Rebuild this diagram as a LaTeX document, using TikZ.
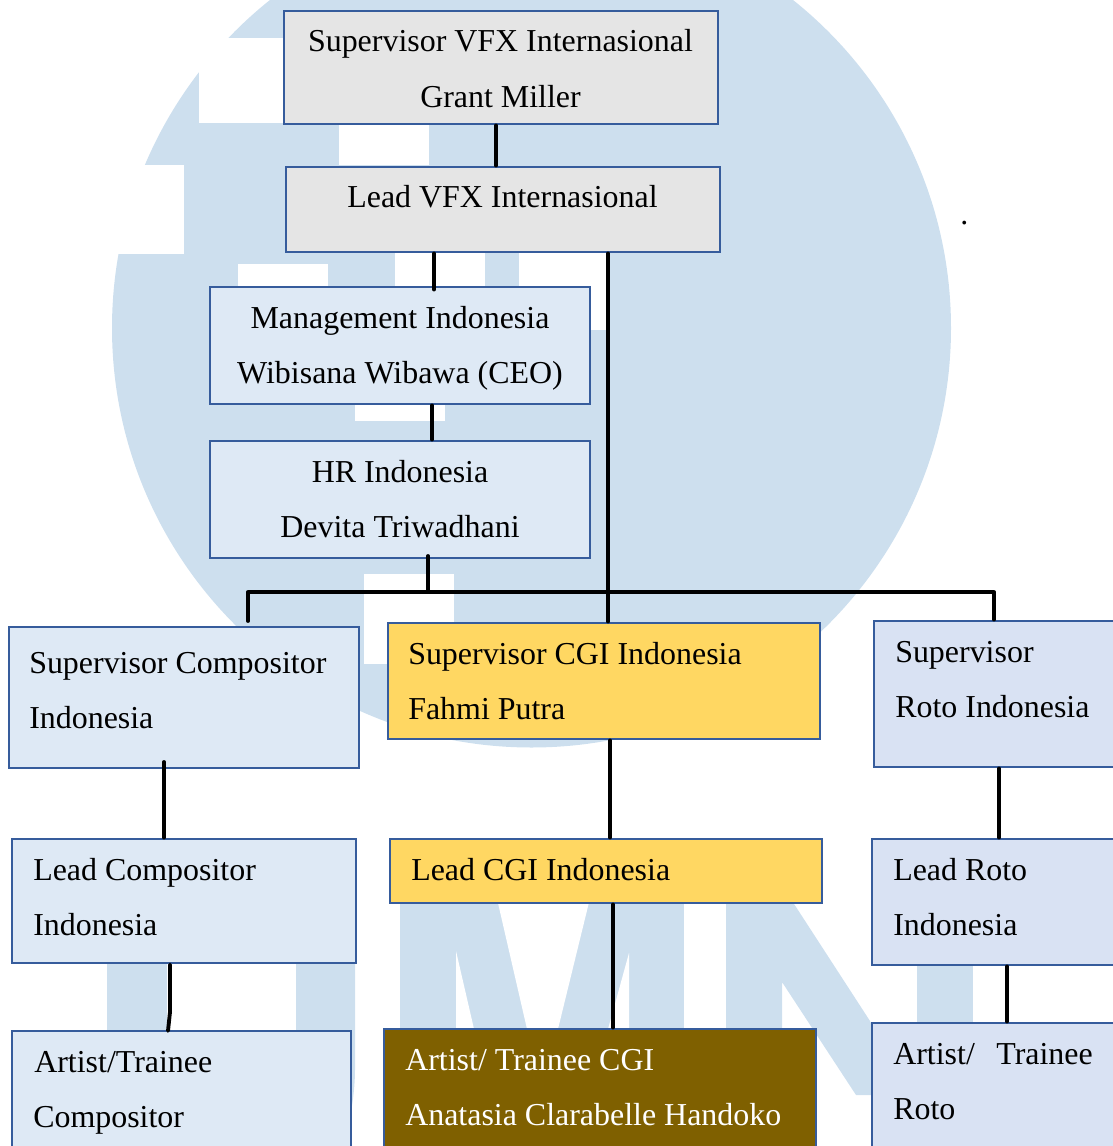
\documentclass[tikz,border=0pt]{standalone}
\usepackage{fontspec}
\setmainfont{Liberation Serif}
\definecolor{wm}{HTML}{CDDFEE}
\definecolor{edge}{HTML}{365C9C}
\definecolor{greyf}{HTML}{E5E5E5}
\definecolor{bluef}{HTML}{DEE9F5}
\definecolor{yelf}{HTML}{FFD762}
\definecolor{brnf}{HTML}{7F6000}
\definecolor{rotof}{HTML}{D9E2F3}
\tikzset{
  box/.style={draw=edge,line width=2.2pt,rectangle,inner sep=0pt},
  lbl/.style={anchor=base west,inner sep=0pt,font=\fontsize{23.95pt}{28pt}\selectfont},
  ctr/.style={anchor=base,inner sep=0pt,font=\fontsize{23.95pt}{28pt}\selectfont},
  link/.style={line width=2.9pt,black,line cap=round},
}
\newcommand{\bx}[6]{% name x0 y0 x1 y1 fill
  \pgfmathsetmacro{\bw}{(#4-#2)*0.75}\pgfmathsetmacro{\bh}{(#5-#3)*0.75}
  \node[box,fill=#6,minimum width=\bw pt,minimum height=\bh pt] (#1) at ({(#2+#4)/2},{(#3+#5)/2}) {};}
\begin{document}
\begin{tikzpicture}[x=0.75pt,y=-0.75pt]
\useasboundingbox (0,0) rectangle (1113,1146);
\begin{scope}
\clip (0,0) rectangle (1113,1146);
% watermark
\fill[wm] (531.5,328) circle[radius=419.5];
\fill[white] (199,38) rectangle (420,123);
\fill[white] (339,123) rectangle (429,165);
\fill[white] (100,165) rectangle (184,254);
\fill[white] (238,264) rectangle (328,300);
\fill[white] (395,252) rectangle (485,300);
\fill[white] (519,252) rectangle (609,330);
\fill[white] (355,395) rectangle (445,421);
\fill[white] (364,574) rectangle (454,664);
\fill[wm] (107,900) rectangle (167,1146);
\fill[wm] (296,900) -- (355,900) -- (355,1070) .. controls (355,1085) and (353,1100) .. (351,1112) -- (296,1146) -- cycle;
\fill[wm] (400,890) rectangle (684,1146);
\fill[white] (456,951) -- (474,1029) -- (474,1040) -- (456,1040) -- cycle;
\fill[white] (495,890) -- (592,890) -- (558,1029) -- (558,1040) -- (527,1040) -- (527,1029) -- cycle;
\fill[white] (629,953) -- (629,1040) -- (605,1040) -- cycle;
\fill[wm] (726,890) -- (785,890) -- (870,1021) -- (900,1095) -- (856,1095) -- (782,982) -- (782,1146) -- (726,1146) -- cycle;
\fill[wm] (917,960) rectangle (973,1146);
\end{scope}
% boxes
\bx{sv}{284}{11}{718}{124}{greyf}
\bx{lv}{286}{167}{720}{252}{greyf}
\bx{mg}{210}{287}{590}{404}{bluef}
\bx{hr}{210}{441}{590}{558}{bluef}
\bx{sc}{9}{627}{359}{768}{bluef}
\bx{sg}{388}{623}{820}{739}{yelf}
\bx{sr}{874}{621}{1130}{767}{rotof}
\bx{lc}{12}{839}{356}{963}{bluef}
\bx{lg}{390}{839}{822}{903}{yelf}
\bx{lr}{872}{839}{1130}{965}{rotof}
\bx{ac}{12}{1031}{351}{1170}{bluef}
\bx{ag}{384}{1029}{816}{1170}{brnf}
\bx{ar}{872}{1023}{1130}{1170}{rotof}
% connectors
\draw[link] (496,0 |- sv.south) -- (496,0 |- lv.north);
\draw[link] (434,0 |- lv.south) -- ([yshift=-3pt]434,0 |- mg.north);
\draw[link] (608,0 |- lv.south) -- (608,0 |- sg.north);
\draw[link] (432,0 |- mg.south) -- (432,0 |- hr.north);
\coordinate (busL) at (248,592);
\coordinate (busR) at (994,592);
\coordinate (busH) at (428,592);
\draw[link] (428,556) -- (busH);
\draw[link,line cap=butt] (busL) -- (busR);
\draw[link] (busL) -- (248,621);
\draw[link] (busR) -- (994,0 |- sr.north);
\draw[link] (164,762) -- (164,0 |- lc.north);
\draw[link] (610,0 |- sg.south) -- (610,0 |- lg.north);
\draw[link] (613,0 |- lg.south) -- (613,0 |- ag.north);
\draw[link] (999,0 |- sr.south) -- (999,0 |- lr.north);
\draw[link] (170,0 |- lc.south) -- (170,1012) -- ([yshift=-1pt]168,0 |- ac.north);
\draw[link] (1007,0 |- lr.south) -- (1007,0 |- ar.north);
% text
\node[ctr] (t1) at (500.5,51.5) {Supervisor VFX Internasional};
\node[ctr] (t2) at (500.5,107.5) {Grant Miller};
\node[ctr] (t3) at (502.5,207.5) {Lead VFX Internasional};
\node[ctr] (t4) at (400,328.5) {Management Indonesia};
\node[ctr] (t5) at (400,383.5) {Wibisana Wibawa (CEO)};
\node[ctr] (t6) at (400,482.5) {HR Indonesia};
\node[ctr] (t7) at (400,537.5) {Devita Triwadhani};
\node[lbl] (t8) at (29,673.5) {Supervisor Compositor};
\node[lbl] (t9) at (29,728.5) {Indonesia};
\node[lbl] (t10) at (408,664.5) {Supervisor CGI Indonesia};
\node[lbl] (t11) at (408,719.5) {Fahmi Putra};
\node[lbl] (t12) at (895,662.5) {Supervisor};
\node[lbl] (t13) at (895,717.5) {Roto Indonesia};
\node[lbl] (t14) at (33,880.5) {Lead Compositor};
\node[lbl] (t15) at (33,935.5) {Indonesia};
\node[lbl] (t16) at (411,880.5) {Lead CGI Indonesia};
\node[lbl] (t17) at (893,880.5) {Lead Roto};
\node[lbl] (t18) at (893,935.5) {Indonesia};
\node[lbl] (t19) at (34,1072.5) {Artist/Trainee};
\node[lbl] (t20) at (33,1127.5) {Compositor};
\node[lbl,text=white] (t21) at (405,1070.5) {Artist/ Trainee CGI};
\node[lbl,text=white] (t22) at (405,1125.5) {Anatasia Clarabelle Handoko};
\node[lbl] (t23) at (893,1064.5) {Artist/};
\node[lbl,anchor=base east] (t24) at (1093,1064.5) {Trainee};
\node[lbl] (t25) at (893,1119.5) {Roto};
\node[lbl] (t26) at (960,224) {.};
\end{tikzpicture}
\end{document}
